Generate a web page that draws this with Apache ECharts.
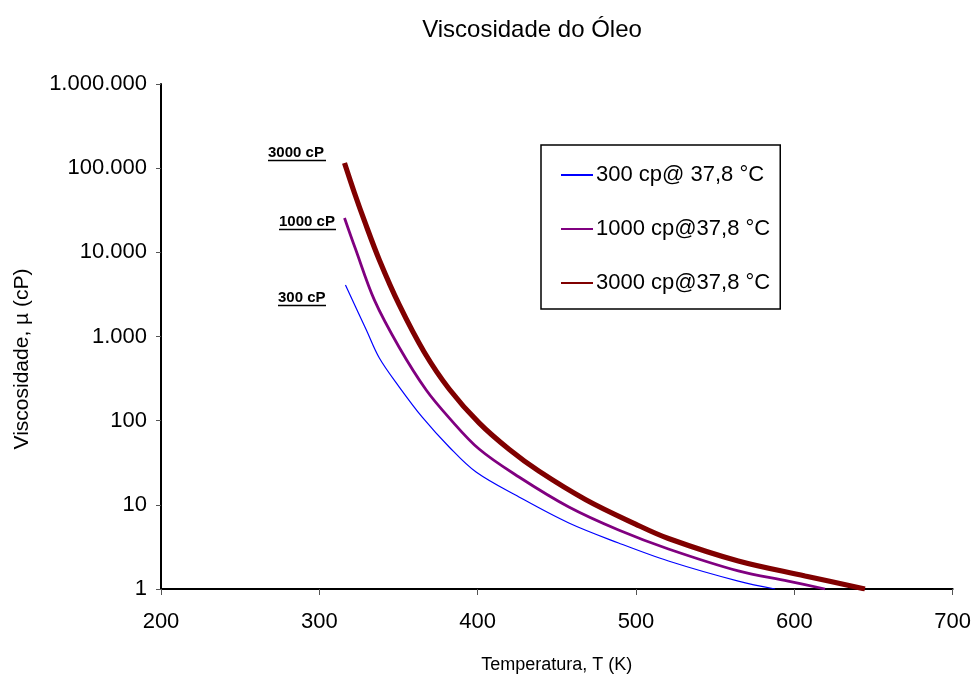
<!DOCTYPE html>
<html><head><meta charset="utf-8">
<script src="https://cdn.jsdelivr.net/npm/echarts@6/dist/echarts.min.js"></script>
<style>html,body{margin:0;padding:0;background:#fff}#c{width:974px;height:682px}</style>
</head><body><div id="c"></div>
<script>
const chartTitle = 'Viscosidade do Óleo';
const xName = 'Temperatura, T (K)';
const yName = 'Viscosidade, \u00b5 (cP)';
const seriesNames = ['300 cp@ 37,8 °C', '1000 cp@37,8 °C', '3000 cp@37,8 °C'];
const annotations = ['300 cP', '1000 cP', '3000 cP'];

const temp300 = [316.5, 329.7, 337.9, 350.5, 365.0, 382.0, 399.0, 426.1, 457.6, 489.0, 520.5, 564.6, 587.9];
const visc300 = [4090, 1195, 555, 251, 110, 48.7, 24.5, 12.4, 6.08, 3.52, 2.15, 1.24, 1.0];

const temp1000 = [315.9, 322.8, 334.8, 350.5, 367.5, 382.0, 400.9, 426.1, 457.6, 489.0, 520.5, 564.6, 596.1, 619.4];
const visc1000 = [25600, 11000, 2700, 740, 231, 108, 46, 21.4, 9.42, 5.02, 2.99, 1.64, 1.24, 1.0];

const temp3000 = [315.9, 322.2, 328.5, 337.9, 350.5, 366.2, 382.0, 400.9, 419.8, 438.7, 468.3, 499.7, 520.5, 564.6, 606.8, 644.6];
const visc3000 = [115100, 50700, 23600, 8110, 2370, 655, 238, 94, 45.7, 25.1, 11.5, 5.9, 3.98, 2.15, 1.43, 1.0];

const xMin = 200, xMax = 700, xStep = 100;
const yMin = 1, yMax = 1000000;

const pairs = (t, v) => t.map((x, i) => [x, v[i]]);
const FONT = '"Liberation Sans", Arial, sans-serif';
const fmt = v => String(Math.round(v)).replace(/\B(?=(\d{3})+(?!\d))/g, '.');

const chart = echarts.init(document.getElementById('c'), null, {renderer: 'canvas'});

const colors = ['#0000FF', '#800080', '#800000'];
const widths = [1.2, 2.8, 5.2];
const datasets = [pairs(temp300, visc300), pairs(temp1000, visc1000), pairs(temp3000, visc3000)];

chart.setOption({
  animation: false,
  backgroundColor: '#fff',
  textStyle: {fontFamily: FONT},
  title: {
    text: chartTitle, left: 527, top: 13, textAlign: 'center',
    textStyle: {fontFamily: FONT, fontSize: 24, fontWeight: 'normal', color: '#000'}
  },
  grid: {left: 161, right: 19, top: 84, bottom: 93, containLabel: false},
  legend: {
    orient: 'vertical', left: 541, top: 145,
    data: seriesNames,
    borderColor: '#000', borderWidth: 1.5, borderRadius: 0,
    padding: [18, 10, 14, 19],
    itemGap: 30, itemWidth: 32, itemHeight: 14,
    itemStyle: {opacity: 0},
    textStyle: {fontFamily: FONT, fontSize: 22, color: '#000', lineHeight: 24, padding: [0, 0, 0, -2]}
  },
  xAxis: {
    type: 'value', min: xMin, max: xMax, interval: xStep,
    name: xName, nameLocation: 'middle', nameGap: 67,
    nameTextStyle: {fontFamily: FONT, fontSize: 18, color: '#000'},
    axisLine: {lineStyle: {color: '#000', width: 2}},
    axisTick: {show: true, inside: false, length: 6, lineStyle: {color: '#555', width: 1}},
    axisLabel: {fontFamily: FONT, fontSize: 22, color: '#000', margin: 22},
    splitLine: {show: false}
  },
  yAxis: {
    type: 'log', logBase: 10, min: yMin, max: yMax,
    axisLine: {show: true, lineStyle: {color: '#000', width: 2}},
    axisTick: {show: true, inside: false, length: 5, lineStyle: {color: '#555', width: 1}},
    axisLabel: {fontFamily: FONT, fontSize: 22, color: '#000', margin: 14, formatter: fmt},
    splitLine: {show: false},
    minorTick: {show: false}
  },
  series: seriesNames.map((n, i) => ({
    name: n, type: 'line', data: datasets[i], smooth: 0.35,
    symbol: 'none', showSymbol: false,
    lineStyle: {color: colors[i], width: widths[i]},
    itemStyle: {color: colors[i]},
    z: 2 + i
  })),
  graphic: [
    {type: 'text', x: 22, y: 359, rotation: Math.PI / 2,
     style: {text: yName, font: '21px ' + FONT, fill: '#000', align: 'center', verticalAlign: 'middle'}},
    {type: 'text', left: 268, top: 145, style: {text: annotations[2], font: 'bold 15px ' + FONT, fill: '#000'}},
    {type: 'line', shape: {x1: 268, y1: 160.5, x2: 326, y2: 160.5}, style: {stroke: '#000', lineWidth: 1.5}},
    {type: 'text', left: 279, top: 214, style: {text: annotations[1], font: 'bold 15px ' + FONT, fill: '#000'}},
    {type: 'line', shape: {x1: 279, y1: 229.5, x2: 336, y2: 229.5}, style: {stroke: '#000', lineWidth: 1.5}},
    {type: 'text', left: 278, top: 290, style: {text: annotations[0], font: 'bold 15px ' + FONT, fill: '#000'}},
    {type: 'line', shape: {x1: 278, y1: 305.5, x2: 326, y2: 305.5}, style: {stroke: '#000', lineWidth: 1.5}}
  ]
});
</script></body></html>
